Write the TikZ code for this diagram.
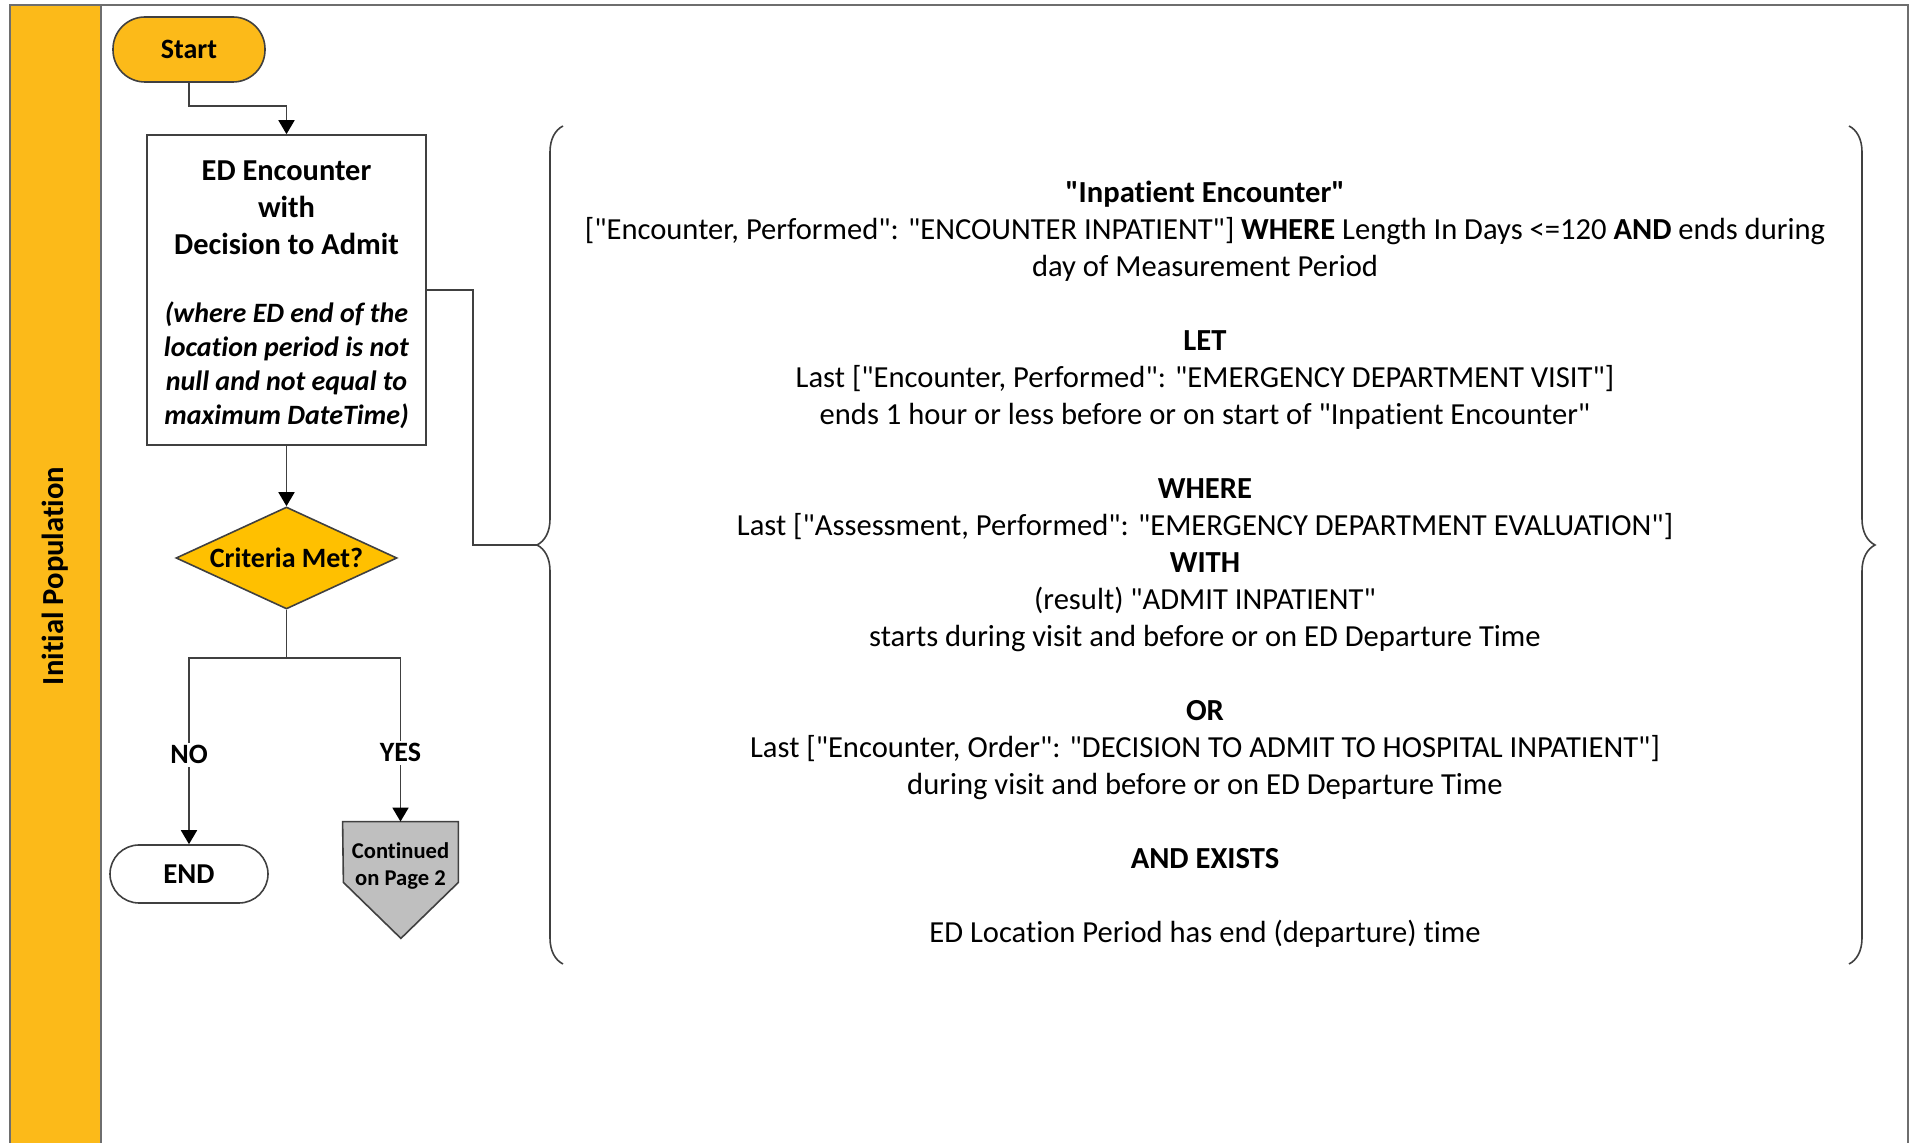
\documentclass[tikz,border=0pt]{standalone}
\usepackage{fontspec}
\setmainfont{Carlito}[Ligatures={TeXOff,CommonOff}]
\usetikzlibrary{shapes.geometric,arrows.meta,decorations.pathreplacing}
\definecolor{bandyel}{HTML}{FCBA19}
\definecolor{diayel}{HTML}{FFC000}
\definecolor{contgray}{HTML}{BFBFBF}
\definecolor{edgegray}{HTML}{404040}
\definecolor{framegray}{HTML}{6E6E6E}
\begin{document}
\begin{tikzpicture}[x=0.5pt,y=-0.5pt,
	term/.style={rectangle,draw=edgegray,line width=0.8pt,font=\fontsize{14}{16}\selectfont\bfseries},
	procbox/.style={rectangle,draw=edgegray,line width=0.8pt,fill=white,minimum width=139.5pt,minimum height=155pt,align=center,font=\fontsize{14}{17}\selectfont},
	decision/.style={diamond,draw=edgegray,line width=0.8pt,fill=diayel,aspect=2.17,inner sep=0pt,minimum width=110.5pt,minimum height=51pt,font=\fontsize{14}{16}\selectfont\bfseries},
	lbl/.style={fill=white,inner sep=1.5pt,font=\fontsize{14}{16}\selectfont\bfseries},
	conn/.style={draw=edgegray,line width=0.9pt},
	arr/.style={conn,-{Triangle[width=8pt,length=7pt,color=black,fill=black]}},
	brc/.style={draw=edgegray,line width=0.8pt,decorate,decoration={brace,amplitude=13pt}}]
\useasboundingbox (0,0) rectangle (1913,1143);
\fill[bandyel] (10,5) rectangle (101,1143);
\draw[framegray,line width=1pt] (10,1143) -- (10,5) -- (1908,5) -- (1908,1143);
\draw[framegray,line width=1pt] (101,5) -- (101,1143);
\node[rotate=90,font=\fontsize{15.3}{18}\selectfont\bfseries] at (55,576) (pop) {Initial Population};

\node[term,fill=bandyel,rounded corners=16pt,minimum width=76pt,minimum height=32.5pt] at (189,49.5) (start) {Start};
\node[procbox] at (286.5,290) (enc) {\rule{0pt}{14.5pt}\fontsize{15.2}{17}\selectfont\textbf{ED Encounter}\\[1.5pt]
	\fontsize{15.2}{17}\selectfont\textbf{with}\\[1.5pt]
	\fontsize{15.2}{17}\selectfont\textbf{Decision to Admit}\\[17.3pt]
	\textbf{\textit{(where ED end of the}}\\
	\textbf{\textit{location period is not}}\\
	\textbf{\textit{null and not equal to}}\\
	\textbf{\textit{maximum DateTime)}}};
\node[decision] at (286.5,558) (crit) {Criteria Met?};
\node[term,fill=white,rounded corners=14.5pt,minimum width=79pt,minimum height=29pt,font=\fontsize{14.4}{16}\selectfont\bfseries] at (189,874) (end) {END};
\node[rectangle,inner sep=0pt,minimum width=57.5pt,minimum height=30pt] at (400.5,852) (cont) {};
\draw[draw=edgegray,line width=0.8pt,fill=contgray] (cont.north west) -- (cont.north east) -- (cont.south east) -- ++(-57.5,56) -- ++(-57.5,-56) -- cycle;
\node[align=center,font=\fontsize{11.3}{13.5}\selectfont\bfseries] at (400.5,866) (conttxt) {Continued\\on Page 2};

\draw[arr] (start.south) -- ++(0,23.5) -| (enc.north);
\draw[arr] (enc.south) -- (crit.north);
\coordinate (split) at (286.5,658);
\draw[conn] (crit.south) -- (split);
\foreach \t/\l/\p in {end/NO/0.76,cont/YES/0.79}
{
	\draw[arr] (split) -| node[lbl,pos=\p] (l\l) {\l} (\t.north);
}

\draw[brc] (563,964) -- (563,126);
\draw[brc] (1849,126) -- (1849,964);
\coordinate (ltip) at (537,545);
\draw[conn] (enc.east) -- ++(46,0) |- (ltip);

\node[align=center,font=\fontsize{15.3}{18.5}\selectfont] at (1205,564) (rule) {\textbf{"Inpatient Encounter"}\\
	{}["Encounter, Performed": "ENCOUNTER INPATIENT"] \textbf{WHERE} Length In Days <=120 \textbf{AND} ends during\\
	day of Measurement Period\\[18.5pt]
	\textbf{LET}\\
	Last ["Encounter, Performed": "EMERGENCY DEPARTMENT VISIT"]\\
	ends 1 hour or less before or on start of "Inpatient Encounter"\\[18.5pt]
	\textbf{WHERE}\\
	Last ["Assessment, Performed": "EMERGENCY DEPARTMENT EVALUATION"]\\
	\textbf{WITH}\\
	(result) "ADMIT INPATIENT"\\
	starts during visit and before or on ED Departure Time\\[18.5pt]
	\textbf{OR}\\
	Last ["Encounter, Order": "DECISION TO ADMIT TO HOSPITAL INPATIENT"]\\
	during visit and before or on ED Departure Time\\[18.5pt]
	\textbf{AND EXISTS}\\[18.5pt]
	ED Location Period has end (departure) time};
\end{tikzpicture}
\end{document}
